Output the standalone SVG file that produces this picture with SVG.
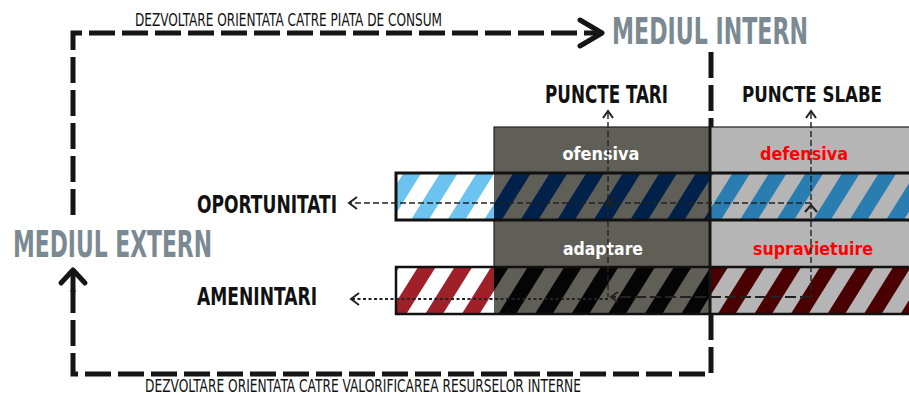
<svg xmlns="http://www.w3.org/2000/svg" width="909" height="395" viewBox="0 0 909 395">
<style>
.cond{font-family:"Liberation Sans Narrow","DejaVu Sans Condensed","Liberation Sans",sans-serif;font-stretch:condensed}
.head{font-weight:bold;fill:#111}
.env{font-weight:bold;fill:#7b8a92}
.cell{font-weight:bold;font-size:18px}
.thick{fill:none;stroke:#151515;stroke-width:5;stroke-dasharray:26 7}
.thin{fill:none;stroke:#222;stroke-width:1.4;stroke-dasharray:6 3}
.arr{fill:none;stroke:#151515;stroke-width:5;stroke-linecap:round;stroke-linejoin:round}
.sarr{fill:none;stroke:#222;stroke-width:2}
</style>
<defs>
<pattern id="pBlueW" patternUnits="userSpaceOnUse" width="31" height="31" patternTransform="rotate(32)"><rect width="31" height="31" fill="#ffffff"/><rect width="15" height="31" fill="#6cc3f0"/></pattern>
<pattern id="pNavy" patternUnits="userSpaceOnUse" width="31" height="31" patternTransform="rotate(32)"><rect width="31" height="31" fill="#605f57"/><rect width="15" height="31" fill="#00214a"/></pattern>
<pattern id="pMid" patternUnits="userSpaceOnUse" width="31" height="31" patternTransform="rotate(32)"><rect width="31" height="31" fill="#b5b5b5"/><rect width="15" height="31" fill="#2a7db0"/></pattern>
<pattern id="pRedW" patternUnits="userSpaceOnUse" width="31" height="31" patternTransform="rotate(32)"><rect width="31" height="31" fill="#ffffff"/><rect width="15" height="31" fill="#a0202a"/></pattern>
<pattern id="pBlack" patternUnits="userSpaceOnUse" width="31" height="31" patternTransform="rotate(32)"><rect width="31" height="31" fill="#605f57"/><rect width="15" height="31" fill="#050505"/></pattern>
<pattern id="pMaroon" patternUnits="userSpaceOnUse" width="31" height="31" patternTransform="rotate(32)"><rect width="31" height="31" fill="#b5b5b5"/><rect width="15" height="31" fill="#4a0000"/></pattern>
</defs>

<g id="matrix">
<rect x="494" y="127" width="216" height="187" fill="#605f57" stroke="#222" stroke-width="1.2"/>
<rect x="710" y="127" width="205" height="187" fill="#b5b5b5" stroke="#222" stroke-width="1.2"/>
<rect x="396" y="173" width="98" height="47" fill="url(#pBlueW)"/>
<rect x="494" y="173" width="216" height="47" fill="url(#pNavy)"/>
<rect x="710" y="173" width="205" height="47" fill="url(#pMid)"/>
<rect x="396" y="267" width="98" height="47" fill="url(#pRedW)"/>
<rect x="494" y="267" width="216" height="47" fill="url(#pBlack)"/>
<rect x="710" y="267" width="205" height="47" fill="url(#pMaroon)"/>
<rect x="396" y="173" width="520" height="47" fill="none" stroke="#111" stroke-width="3"/>
<rect x="396" y="267" width="520" height="47" fill="none" stroke="#111" stroke-width="2.5"/>
<line x1="710" y1="127" x2="710" y2="314" stroke="#151515" stroke-width="3"/>
</g>

<g id="cells">
<text class="cond cell" x="601" y="160" text-anchor="middle" fill="#ffffff" textLength="77" lengthAdjust="spacingAndGlyphs">ofensiva</text>
<text class="cond cell" x="804" y="160" text-anchor="middle" fill="#ff0000" textLength="88" lengthAdjust="spacingAndGlyphs">defensiva</text>
<text class="cond cell" x="603" y="255" text-anchor="middle" fill="#ffffff" textLength="80" lengthAdjust="spacingAndGlyphs">adaptare</text>
<text class="cond cell" x="813" y="255" text-anchor="middle" fill="#ff0000" textLength="120" lengthAdjust="spacingAndGlyphs">supravietuire</text>
</g>

<g id="labels">
<text class="cond" x="135" y="26" font-size="18" fill="#111" textLength="307" lengthAdjust="spacingAndGlyphs">DEZVOLTARE ORIENTATA CATRE PIATA DE CONSUM</text>
<text class="cond env" x="612" y="44" font-size="37" textLength="196" lengthAdjust="spacingAndGlyphs">MEDIUL INTERN</text>
<text class="cond env" x="13" y="257" font-size="38" textLength="199" lengthAdjust="spacingAndGlyphs">MEDIUL EXTERN</text>
<text class="cond head" x="545" y="103" font-size="25" textLength="123" lengthAdjust="spacingAndGlyphs">PUNCTE TARI</text>
<text class="cond head" x="742" y="102" font-size="22" textLength="140" lengthAdjust="spacingAndGlyphs">PUNCTE SLABE</text>
<text class="cond head" x="197" y="213" font-size="25" textLength="140" lengthAdjust="spacingAndGlyphs">OPORTUNITATI</text>
<text class="cond head" x="197" y="305" font-size="25" textLength="120" lengthAdjust="spacingAndGlyphs">AMENINTARI</text>
<text class="cond" x="145" y="392" font-size="17" fill="#111" textLength="436" lengthAdjust="spacingAndGlyphs">DEZVOLTARE ORIENTATA CATRE VALORIFICAREA RESURSELOR INTERNE</text>
</g>

<g id="connectors">
<path class="thick" d="M73 215 V33 H598"/>
<polyline class="arr" points="580,20 602,33 580,46"/>
<path class="thick" d="M711 52 V127 M711 314 V374 H73 V290"/>
<line x1="73" y1="270" x2="73" y2="292" stroke="#151515" stroke-width="5"/>
<polyline class="arr" points="61,283 73,270 85,283"/>
<path class="thin" d="M608 113 V297"/>
<polyline class="sarr" points="603,118 608,111 613,118"/>
<path class="thin" d="M811 113 V297"/>
<polyline class="sarr" points="806,118 811,111 816,118"/>
<polyline class="sarr" points="805,212 811,205 817,212"/>
<path class="thin" d="M811 203 H350"/>
<polyline class="sarr" points="357,197 349,203 357,209"/>
<polyline class="sarr" points="616,197 607,203 616,209" stroke-width="3"/>
<path fill="none" stroke="#222" stroke-width="2" stroke-dasharray="11 4" d="M811 297 H612"/>
<polyline class="sarr" points="618,292 611,297 618,302"/>
<path fill="none" stroke="#222" stroke-width="2" stroke-dasharray="3 2.5" d="M608 299 H352"/>
<polyline class="sarr" points="359,293 351,299 359,305"/>
</g>
</svg>
